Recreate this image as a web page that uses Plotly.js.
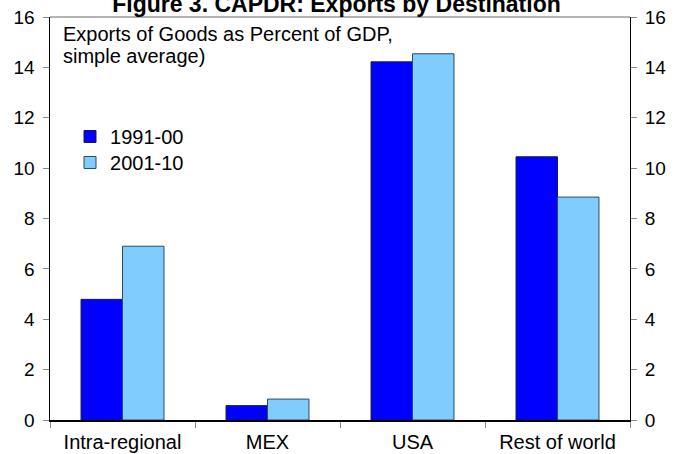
<!DOCTYPE html>
<html>
<head>
<meta charset="utf-8">
<script src="https://cdn.plot.ly/plotly-3.0.1.min.js"></script>
<style>html,body{margin:0;padding:0;background:#fff;}#chart{width:682px;height:454px;}</style>
</head>
<body>
<div id="chart"></div>
<script>
var categories = ["Intra-regional", "MEX", "USA", "Rest of world"];
var series1Name = "1991-00";
var series1 = [4.79, 0.57, 14.22, 10.45];
var series2Name = "2001-10";
var series2 = [6.9, 0.83, 14.54, 8.85];
var tickVals = [0, 2, 4, 6, 8, 10, 12, 14, 16];
var noteLine1 = "Exports of Goods as Percent of GDP,";
var noteLine2 = "simple average)";

var font = "Liberation Sans, Arial, sans-serif";

var data = [
  {type: "bar", name: series1Name, x: categories, y: series1, legend: "legend",
   marker: {color: "#0000FF", line: {color: "#1a1a4a", width: 1}}, hoverinfo: "skip"},
  {type: "bar", name: series2Name, x: categories, y: series2, legend: "legend2",
   marker: {color: "#80CCFF", line: {color: "#2a4a60", width: 1}}, hoverinfo: "skip"},
  {type: "scatter", mode: "markers", x: categories, y: series1, yaxis: "y2",
   marker: {opacity: 0}, showlegend: false, hoverinfo: "skip"}
];

var legendCommon = {xanchor: "left", yanchor: "middle", bgcolor: "rgba(0,0,0,0)",
  font: {family: font, size: 20, color: "#000"}, itemwidth: 30};

var layout = {
  width: 682, height: 454,
  margin: {l: 50, r: 52, t: 17, b: 34},
  paper_bgcolor: "#fff", plot_bgcolor: "#fff",
  font: {family: font, size: 19, color: "#000"},
  title: {text: "<b>Figure 3. CAPDR: Exports by Destination</b>", font: {family: font, size: 23, color: "#000"},
          x: 0.4934, xanchor: "center", xref: "container", y: 1, yanchor: "bottom", yref: "paper",
          pad: {b: 5}},
  barmode: "group", bargap: 0.428, bargroupgap: 0,
  showlegend: true,
  legend: Object.assign({x: 0.0345, y: 0.7035}, legendCommon),
  legend2: Object.assign({x: 0.0345, y: 0.639}, legendCommon),
  xaxis: {type: "category", showline: true, linecolor: "#000", linewidth: 1.5,
          ticks: "outside", tickson: "boundaries", ticklen: 6, tickcolor: "#888",
          showgrid: false, tickfont: {family: font, size: 20}, zeroline: false,
          ticklabelstandoff: 3},
  yaxis: {range: [0, 16], tickvals: tickVals, showline: true, linecolor: "#000", linewidth: 1.5,
          ticks: "outside", ticklen: 6, tickcolor: "#888", showgrid: false, zeroline: false,
          tickfont: {family: font, size: 19}, ticklabelstandoff: 4},
  yaxis2: {range: [0, 16], tickvals: tickVals, overlaying: "y", side: "right", showline: true,
           linecolor: "#000", linewidth: 1, ticks: "outside", ticklen: 6, tickcolor: "#888",
           showgrid: false, zeroline: false, tickfont: {family: font, size: 19}, ticklabelstandoff: 4},
  shapes: [
    {type: "line", xref: "paper", yref: "paper", x0: 0, x1: 1, y0: 1, y1: 1,
     line: {color: "#999", width: 1.5}}
  ],
  annotations: [
    {text: noteLine1, xref: "paper", yref: "paper",
     x: 0.019, y: 0.9578, xanchor: "left", yanchor: "middle", align: "left", showarrow: false,
     font: {family: font, size: 20, color: "#000"}},
    {text: noteLine2, xref: "paper", yref: "paper",
     x: 0.019, y: 0.9032, xanchor: "left", yanchor: "middle", align: "left", showarrow: false,
     font: {family: font, size: 20, color: "#000"}}
  ]
};

Plotly.newPlot("chart", data, layout, {staticPlot: true});
</script>
</body>
</html>
